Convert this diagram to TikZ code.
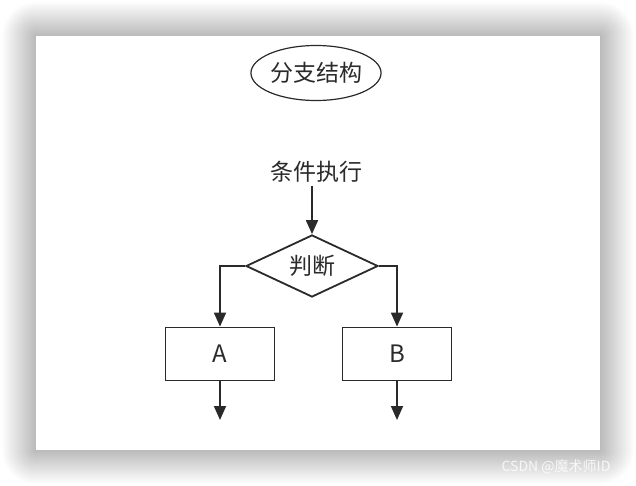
\documentclass[tikz,border=0pt]{standalone}
\usepackage{fontspec}
\setmainfont{Noto Sans}
\newfontfamily\cjk{Noto Sans CJK SC}
\usetikzlibrary{arrows.meta,shapes.geometric}
\definecolor{ink}{HTML}{2A2A2A}
\tikzset{
  flowline/.style={draw=ink, line width=1.8pt},
  arr/.style={flowline, -{Triangle[width=12pt,length=14pt]}},
  procbox/.style={draw=ink, line width=1.8pt, rectangle, minimum width=109pt, minimum height=53pt, inner sep=0pt, font=\cjk\fontsize{24}{26}\selectfont, text=ink},
  decide/.style={draw=ink, line width=1.8pt, diamond, aspect=2.1, minimum width=132pt, minimum height=62pt, inner sep=0pt, font=\cjk\fontsize{23}{26}\selectfont, text=ink},
  titleell/.style={draw=ink, line width=1.2pt, ellipse, minimum width=106pt, minimum height=55pt, inner sep=0pt, font=\cjk\fontsize{23}{26}\selectfont, text=ink},
  plain/.style={font=\cjk\fontsize{23}{26}\selectfont, text=ink, inner sep=3pt},
}
\begin{document}
\begin{tikzpicture}[x=1pt,y=-1pt]
\useasboundingbox (0,0) rectangle (636,486);
\fill[white] (0,0) rectangle (636,486);
\foreach \i in {34,33,...,1}{
  \fill[black, opacity=0.0075, rounded corners=\i pt] (36-\i,36-\i) rectangle (600+\i,450+\i);
}
\fill[white] (36,36) rectangle (600,450);
\node[titleell] (title) at (316,73) {分支结构};
\node[plain] (cond) at (316,172) {条件执行};
\node[decide] (judge) at (312,266) {判断};
\node[procbox] (A) at (220,354) {A};
\node[procbox] (B) at (397,354) {B};
\coordinate (Aend) at (220,420);
\coordinate (Bend) at (397,420);
\draw[arr] (judge.north |- cond.south) -- (judge.north);
\draw[arr] (judge.west) -| (A.north);
\draw[arr] (judge.east) -| (B.north);
\draw[arr] (A.south) -- (Aend);
\draw[arr] (B.south) -- (Bend);
\node[font=\cjk\fontsize{14}{16}\selectfont, text=white, opacity=0.8] (wm) at (556,467) {CSDN @魔术师ID};
\end{tikzpicture}
\end{document}
